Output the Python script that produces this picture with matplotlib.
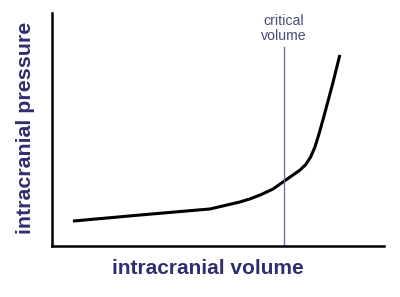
import matplotlib.pyplot as plt

# curve (arbitrary units, 0-100 on both axes)
volume = [6.3, 26.5, 47.6, 52.1, 56.6, 59.6, 62.7, 66.5, 69.6, 72.6, 74.7, 76.4,
          77.9, 79.2, 80.4, 81.6, 83.1, 84.6, 86.7]
pressure = [10.7, 13.3, 15.9, 17.4, 18.9, 20.2, 21.9, 24.4, 27.5, 30.5, 32.6, 34.9,
            38.2, 42.5, 48.0, 54.1, 62.0, 70.0, 82.0]
critical_volume = 69.9
critical_top = 85.4

LABEL_COLOR = '#2e2e70'

plt.rcParams['font.family'] = ['Liberation Sans', 'DejaVu Sans']

fig = plt.figure(figsize=(4.0, 2.97), dpi=100)
ax = fig.add_axes([0.13, 0.1717, 0.83, 0.7845])

ax.plot(volume, pressure, color='black', linewidth=2.2, solid_capstyle='butt',
        solid_joinstyle='round')
ax.plot([critical_volume, critical_volume], [0, critical_top], color='#6464a0', linewidth=0.9)
ax.text(critical_volume, 87, 'critical\nvolume', ha='center', va='bottom',
        fontsize=10.2, color='#4a4a7c', linespacing=1.15)

ax.set_xlim(0, 100)
ax.set_ylim(0, 100)
ax.set_xticks([])
ax.set_yticks([])
for side in ('top', 'right'):
    ax.spines[side].set_visible(False)
for side in ('left', 'bottom'):
    ax.spines[side].set_linewidth(1.8)
ax.patch.set_visible(False)

fig.text(0.52, 0.095, 'intracranial volume', ha='center', va='center',
         fontsize=15, fontweight='bold', color=LABEL_COLOR)
fig.text(0.063, 0.57, 'intracranial pressure', ha='center', va='center', rotation=90,
         fontsize=15.4, fontweight='bold', color=LABEL_COLOR)

fig.savefig('out.png', dpi=100)
